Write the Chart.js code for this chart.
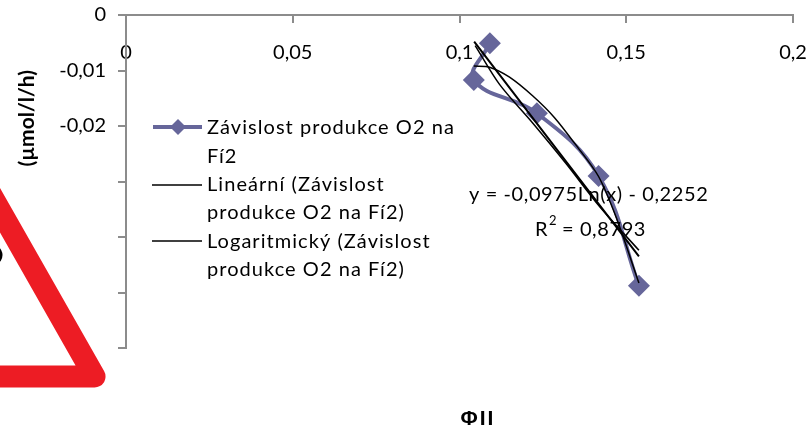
<!DOCTYPE html>
<html>
<head>
<meta charset="utf-8">
<style>
  html, body { margin: 0; padding: 0; background: #fff; }
  #wrap { width: 809px; height: 430px; }
</style>
<script src="https://cdn.jsdelivr.net/npm/chart.js@4"></script>
</head>
<body>
<div id="wrap"><canvas id="chart" width="809" height="430"></canvas></div>
<script>
const seriesX = [0.1091, 0.1043, 0.1232, 0.1417, 0.1538]
const seriesY = [-0.0051, -0.0117, -0.0177, -0.029, -0.0488]

const linearX = [0.1044, 0.1538]
const linearY = [-0.0048, -0.0435]

const logX = [0.1047, 0.112, 0.122, 0.132, 0.142, 0.1538]
const logY = [-0.0055, -0.0125, -0.0195, -0.0268, -0.0345, -0.0424]

const polyX = [0.1043, 0.109, 0.115, 0.122, 0.1285, 0.135, 0.1417, 0.147, 0.1538]
const polyY = [-0.0092, -0.0094, -0.0112, -0.0146, -0.0185, -0.0235, -0.0291, -0.0365, -0.0483]

const xTickLabels = ['0', '0,05', '0,1', '0,15', '0,2']
const yTickLabels = ['0', '-0,01', '-0,02', '', '', '', '']

const legendLines = [
  'Závislost produkce O2 na', 'Fí2',
  'Lineární (Závislost', 'produkce O2 na Fí2)',
  'Logaritmický (Závislost', 'produkce O2 na Fí2)'
]

const FONT = 'Lato, "Open Sans", sans-serif'
const SERIES_COLOR = '#66669a'
const AXIS_COLOR = '#8c8c8c'
const TEXT_SIZE = 20

const toPoints = (xs, ys) => xs.map((x, i) => ({ x, y: ys[i] }))

const trend = (label, xs, ys, width) => ({
  label,
  data: toPoints(xs, ys),
  borderColor: '#000',
  borderWidth: width,
  pointRadius: 0,
  showLine: true,
  tension: 0.3,
})

// no extra room for labels that stick out, the plot area has to stay put
const noBleed = s => {
  s.paddingLeft = s.paddingRight = s.paddingTop = s.paddingBottom = 0
}

// legend, trendline label, axis titles and the warning sign sit over the chart
const overlay = {
  id: 'overlay',
  afterDraw(chart) {
    const ctx = chart.ctx
    ctx.save()
    ctx.fillStyle = '#000'
    ctx.textBaseline = 'middle'
    ctx.textAlign = 'left'

    // legend
    ctx.font = `${TEXT_SIZE}px ${FONT}`
    ctx.letterSpacing = '1.05px'
    legendLines.forEach((text, i) => ctx.fillText(text, 207, 128 + i * 28.3))
    ctx.strokeStyle = SERIES_COLOR
    ctx.lineWidth = 4
    ctx.beginPath(); ctx.moveTo(153, 127); ctx.lineTo(202, 127); ctx.stroke()
    ctx.fillStyle = SERIES_COLOR
    ctx.beginPath()
    ctx.moveTo(178, 119); ctx.lineTo(186, 127); ctx.lineTo(178, 135); ctx.lineTo(170, 127)
    ctx.closePath(); ctx.fill()
    ctx.strokeStyle = '#000'
    ctx.lineWidth = 1.5
    ctx.beginPath(); ctx.moveTo(152, 185); ctx.lineTo(202, 185); ctx.stroke()
    ctx.beginPath(); ctx.moveTo(152, 241); ctx.lineTo(202, 241); ctx.stroke()

    // trendline equation
    ctx.fillStyle = '#000'
    ctx.letterSpacing = '0.6px'
    ctx.fillText('y = -0,0975Ln(x) - 0,2252', 469, 195)
    ctx.fillText('R', 535, 230)
    ctx.fillText('= 0,8793', 562, 230)
    ctx.letterSpacing = '0px'
    ctx.font = `13px ${FONT}`
    ctx.fillText('2', 549, 221)

    // x title
    ctx.font = 'bold 21px "Liberation Sans", sans-serif'
    ctx.letterSpacing = '2px'
    ctx.textAlign = 'center'
    ctx.fillText('ΦII', 478, 419)
    ctx.letterSpacing = '0px'

    // y title, cut off by the sign's white box
    ctx.save()
    ctx.beginPath(); ctx.rect(0, 60, 60, 108); ctx.clip()
    ctx.translate(27, 70)
    ctx.rotate(-Math.PI / 2)
    ctx.textAlign = 'right'
    ctx.font = `bold 21px ${FONT}`
    ctx.fillText('(µmol/l/h)', 0, 0)
    ctx.restore()

    // warning sign cropped at the left edge
    ctx.strokeStyle = '#ed1c24'
    ctx.lineWidth = 22
    ctx.lineJoin = 'round'
    ctx.beginPath()
    ctx.moveTo(-20, 175); ctx.lineTo(94.5, 376.5); ctx.lineTo(-20, 376.5)
    ctx.stroke()
    ctx.strokeStyle = '#000'
    ctx.lineWidth = 3
    ctx.beginPath(); ctx.arc(-8, 255, 9, -1, 1); ctx.stroke()
    ctx.restore()
  }
}

new Chart(document.getElementById('chart').getContext('2d'), {
  type: 'scatter',
  data: {
    datasets: [
      trend('Lineární', linearX, linearY, 2),
      trend('Logaritmický', logX, logY, 1.5),
      trend('Polynom', polyX, polyY, 1.5),
      {
        label: 'Závislost produkce O2 na Fí2',
        data: toPoints(seriesX, seriesY),
        borderColor: SERIES_COLOR,
        backgroundColor: SERIES_COLOR,
        borderWidth: 4,
        showLine: true,
        tension: 0.4,
        pointStyle: 'rectRot',
        pointRadius: 11,
        pointBorderWidth: 0,
        pointHoverRadius: 11,
        order: 1,
      },
    ],
  },
  options: {
    responsive: false,
    animation: false,
    layout: { padding: { left: 0, top: 0, right: 16, bottom: 82 } },
    plugins: { legend: { display: false }, tooltip: { enabled: false } },
    scales: {
      x: {
        type: 'linear',
        position: 'top',
        min: 0,
        max: 0.2,
        afterFit: s => { s.height = 15; noBleed(s) },
        afterBuildTicks: s => { s.ticks = xTickLabels.map((_, i) => ({ value: i * 0.05 })) },
        grid: { display: true, drawOnChartArea: false, color: AXIS_COLOR, lineWidth: 2, tickLength: -8 },
        border: { color: AXIS_COLOR, width: 2 },
        ticks: {
          mirror: true,
          padding: 26,
          maxRotation: 0,
          autoSkip: false,
          color: '#000',
          font: { family: FONT, size: TEXT_SIZE },
          callback: (v, i) => xTickLabels[i],
        },
      },
      y: {
        type: 'linear',
        min: -0.06,
        max: 0,
        afterFit: s => { s.width = 126; noBleed(s) },
        afterBuildTicks: s => { s.ticks = yTickLabels.map((_, i) => ({ value: -i * 0.01 })) },
        grid: { display: true, drawOnChartArea: false, color: AXIS_COLOR, lineWidth: 2, tickLength: 8 },
        border: { color: AXIS_COLOR, width: 2 },
        ticks: {
          padding: 12,
          autoSkip: false,
          color: '#000',
          font: { family: FONT, size: TEXT_SIZE },
          callback: (v, i) => yTickLabels[i],
        },
      },
    },
  },
  plugins: [overlay],
})
</script>
</body>
</html>
